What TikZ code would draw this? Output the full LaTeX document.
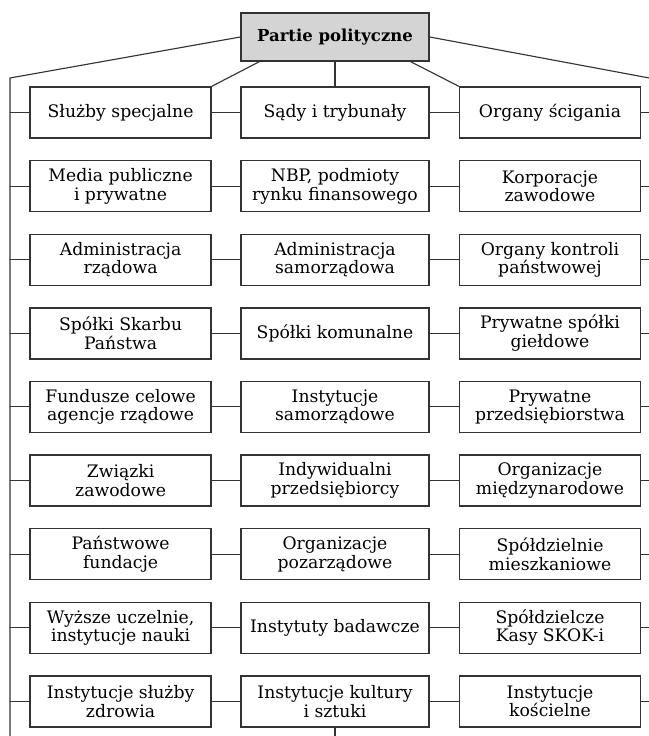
\documentclass[tikz,border=0pt]{standalone}
\usepackage{fontspec}
\setmainfont{DejaVu Serif}
\usepackage{tikz}
\usetikzlibrary{positioning}
\definecolor{lineGray}{gray}{0.2}
\definecolor{boxGray}{gray}{0.83}

\begin{document}
\begin{tikzpicture}[scale=1.0,
    box/.style={draw=lineGray, line width=2pt, minimum width=9.05cm, minimum height=2.55cm,
        inner sep=0pt, align=center, font=\fontsize{24.5}{26.5}\selectfont},
    wide/.style={box, minimum width=9.4cm},
    link/.style={draw=lineGray, line width=1.6pt}]
    \useasboundingbox (0,0) rectangle (32.45,-36.8);

    \coordinate (TL) at (0.5,-3.9);
    \coordinate (BL) at (0.5,-36.8);
    \coordinate (TR) at (33.0,-4.0);
    \coordinate (BR) at (33.0,-36.8);
    \coordinate (BM) at (16.75,-36.8);

    \node[wide, fill=boxGray, minimum height=2.4cm, font=\fontsize{23.5}{26}\selectfont\bfseries] (T) at (16.75,-1.85) {Partie polityczne};

    \node[box]  (L1) at (6.03,-5.625) {Służby specjalne};
    \node[wide] (M1) at (16.75,-5.625) {Sądy i trybunały};
    \node[box]  (R1) at (27.5,-5.625) {Organy ścigania};

    \node[box]  (L2) at (6.03,-9.305) {Media publiczne\\i prywatne};
    \node[wide] (M2) at (16.75,-9.305) {NBP, podmioty\\rynku finansowego};
    \node[box]  (R2) at (27.5,-9.305) {Korporacje\\zawodowe};

    \node[box]  (L3) at (6.03,-12.985) {Administracja\\rządowa};
    \node[wide] (M3) at (16.75,-12.985) {Administracja\\samorządowa};
    \node[box]  (R3) at (27.5,-12.985) {Organy kontroli\\państwowej};

    \node[box]  (L4) at (6.03,-16.665) {Spółki Skarbu\\Państwa};
    \node[wide] (M4) at (16.75,-16.665) {Spółki komunalne};
    \node[box]  (R4) at (27.5,-16.665) {Prywatne spółki\\giełdowe};

    \node[box]  (L5) at (6.03,-20.345) {Fundusze celowe\\agencje rządowe};
    \node[wide] (M5) at (16.75,-20.345) {Instytucje\\samorządowe};
    \node[box]  (R5) at (27.5,-20.345) {Prywatne\\przedsiębiorstwa};

    \node[box]  (L6) at (6.03,-24.025) {Związki\\zawodowe};
    \node[wide] (M6) at (16.75,-24.025) {Indywidualni\\przedsiębiorcy};
    \node[box]  (R6) at (27.5,-24.025) {Organizacje\\międzynarodowe};

    \node[box]  (L7) at (6.03,-27.705) {Państwowe\\fundacje};
    \node[wide] (M7) at (16.75,-27.705) {Organizacje\\pozarządowe};
    \node[box]  (R7) at (27.5,-27.705) {Spółdzielnie\\mieszkaniowe};

    \node[box]  (L8) at (6.03,-31.385) {Wyższe uczelnie,\\instytucje nauki};
    \node[wide] (M8) at (16.75,-31.385) {Instytuty badawcze};
    \node[box]  (R8) at (27.5,-31.385) {Spółdzielcze\\Kasy SKOK-i};

    \node[box]  (L9) at (6.03,-35.065) {Instytucje służby\\zdrowia};
    \node[wide] (M9) at (16.75,-35.065) {Instytucje kultury\\i sztuki};
    \node[box]  (R9) at (27.5,-35.065) {Instytucje\\kościelne};

    \draw[link] (T.west) -- (TL) -- (BL);
    \draw[link] (T.east) -- (TR) -- (BR);
    \draw[link] ([xshift=0.95cm]T.south west) -- (L1.north east);
    \draw[link] (T.south) -- (M1.north);
    \draw[link] ([xshift=-0.95cm]T.south east) -- (R1.north west);
    \draw[link] (M9.south) -- (BM);

    \draw[link] (L1.west -| TL) -- (L1.west) (L1.east) -- (M1.west) (M1.east) -- (R1.west) (R1.east) -- (R1.east -| TR);
    \draw[link] (L2.west -| TL) -- (L2.west) (L2.east) -- (M2.west) (M2.east) -- (R2.west) (R2.east) -- (R2.east -| TR);
    \draw[link] (L3.west -| TL) -- (L3.west) (L3.east) -- (M3.west) (M3.east) -- (R3.west) (R3.east) -- (R3.east -| TR);
    \draw[link] (L4.west -| TL) -- (L4.west) (L4.east) -- (M4.west) (M4.east) -- (R4.west) (R4.east) -- (R4.east -| TR);
    \draw[link] (L5.west -| TL) -- (L5.west) (L5.east) -- (M5.west) (M5.east) -- (R5.west) (R5.east) -- (R5.east -| TR);
    \draw[link] (L6.west -| TL) -- (L6.west) (L6.east) -- (M6.west) (M6.east) -- (R6.west) (R6.east) -- (R6.east -| TR);
    \draw[link] (L7.west -| TL) -- (L7.west) (L7.east) -- (M7.west) (M7.east) -- (R7.west) (R7.east) -- (R7.east -| TR);
    \draw[link] (L8.west -| TL) -- (L8.west) (L8.east) -- (M8.west) (M8.east) -- (R8.west) (R8.east) -- (R8.east -| TR);
    \draw[link] (L9.west -| TL) -- (L9.west) (L9.east) -- (M9.west) (M9.east) -- (R9.west) (R9.east) -- (R9.east -| TR);
\end{tikzpicture}
\end{document}
